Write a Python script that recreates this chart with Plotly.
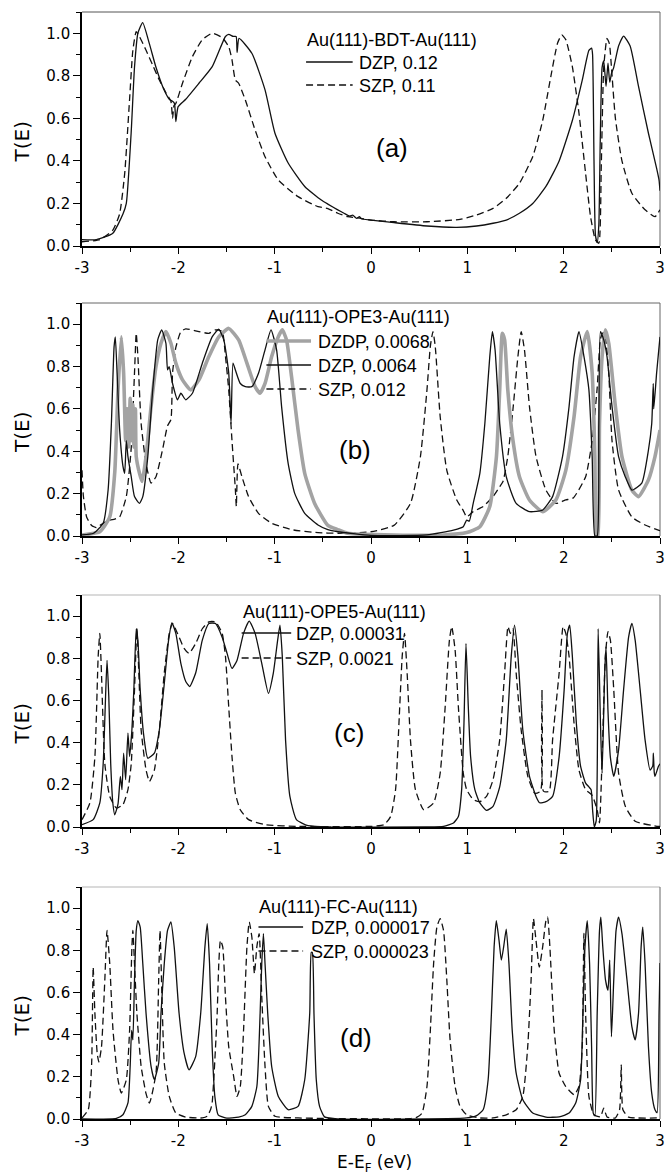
import plotly.graph_objects as go
from plotly.subplots import make_subplots

# ---------------------------------------------------------------- axes ticks
x_tick_vals = [-3, -2, -1, 0, 1, 2, 3]
x_tick_text = ["-3", "-2", "-1", "0", "1", "2", "3"]
y_tick_vals = [0.0, 0.2, 0.4, 0.6, 0.8, 1.0]
y_tick_text = ["0.0", "0.2", "0.4", "0.6", "0.8", "1.0"]

# ---------------------------------------------------------------- (a) Au(111)-BDT-Au(111)
bdt_dzp_e = [-3.0, -2.85, -2.68, -2.575, -2.54, -2.49, -2.455, -2.42, -2.37, -2.30, -2.232,
             -2.163, -2.094, -2.06, -2.04, -2.026, -2.002, -1.923, -1.786, -1.648, -1.511,
             -1.477, -1.43, -1.40, -1.39, -1.37, -1.237, -1.10, -0.997, -0.86, -0.688,
             -0.516, -0.448, -0.345, -0.28, -0.22, -0.19, -0.15, -0.12, -0.10, 0.0, 0.238,
             0.581, 0.89, 1.096, 1.267, 1.404, 1.541, 1.679, 1.816, 1.953, 2.09, 2.193,
             2.262, 2.29, 2.30, 2.315, 2.33, 2.348, 2.365, 2.38, 2.399, 2.416, 2.44, 2.46,
             2.478, 2.496, 2.52, 2.57, 2.622, 2.69, 2.777, 2.88, 2.965, 2.99, 3.0]
bdt_dzp_t = [0.03, 0.03, 0.06, 0.15, 0.20, 0.53, 0.84, 1.0, 1.05, 0.95, 0.84,
             0.75, 0.69, 0.68, 0.67, 0.585, 0.655, 0.69, 0.765, 0.843, 0.985,
             0.995, 0.985, 0.985, 0.91, 0.976, 0.906, 0.734, 0.53, 0.39, 0.28,
             0.216, 0.197, 0.17, 0.154, 0.14, 0.145, 0.13, 0.138, 0.128, 0.122, 0.11,
             0.094, 0.088, 0.094, 0.107, 0.122, 0.154, 0.20, 0.28, 0.40, 0.59, 0.78,
             0.92, 0.93, 0.90, 0.40, 0.05, 0.016, 0.10, 0.50, 0.84, 0.87, 0.75, 0.86,
             0.77, 0.81, 0.84, 0.94, 0.987, 0.94, 0.75, 0.53, 0.365, 0.31, 0.26]

bdt_szp_e = [-3.0, -2.815, -2.68, -2.61, -2.557, -2.506, -2.472, -2.437, -2.403, -2.335,
             -2.266, -2.197, -2.129, -2.077, -2.06, -2.045, -2.026, -1.957, -1.854, -1.751,
             -1.649, -1.545, -1.477, -1.443, -1.408, -1.374, -1.305, -1.203, -1.10, -0.962,
             -0.757, -0.55, -0.448, -0.345, -0.242, -0.105, 0.0, 0.238, 0.581, 0.924, 1.096,
             1.267, 1.404, 1.541, 1.679, 1.782, 1.868, 1.936, 1.98, 2.022, 2.09, 2.159,
             2.228, 2.279, 2.33, 2.365, 2.39, 2.416, 2.45, 2.475, 2.496, 2.537, 2.605,
             2.708, 2.845, 2.948, 3.0]
bdt_szp_t = [0.02, 0.03, 0.075, 0.15, 0.34, 0.69, 0.92, 1.008, 0.984, 0.92,
             0.85, 0.78, 0.72, 0.68, 0.60, 0.66, 0.67, 0.765, 0.89, 0.97,
             1.0, 0.98, 0.937, 0.875, 0.78, 0.765, 0.687, 0.545, 0.42, 0.31,
             0.232, 0.185, 0.176, 0.154, 0.138, 0.13, 0.122, 0.114, 0.114, 0.125, 0.146,
             0.177, 0.224, 0.295, 0.42, 0.59, 0.80, 0.953, 0.992, 0.97, 0.843, 0.624,
             0.34, 0.138, 0.028, 0.013, 0.37, 0.84, 0.976, 0.95, 0.84, 0.60, 0.40,
             0.248, 0.17, 0.138, 0.17]

# ---------------------------------------------------------------- (b) Au(111)-OPE3-Au(111)
ope3_dzdp_e = [-3.0, -2.815, -2.712, -2.66, -2.626, -2.592, -2.568, -2.547, -2.53, -2.515,
               -2.50, -2.489, -2.472, -2.46, -2.445, -2.437, -2.403, -2.376, -2.335, -2.283,
               -2.232, -2.18, -2.129, -2.077, -2.026, -1.957, -1.871, -1.786, -1.683, -1.58,
               -1.477, -1.374, -1.288, -1.203, -1.151, -1.10, -1.031, -0.963, -0.921, -0.877,
               -0.825, -0.757, -0.688, -0.585, -0.448, -0.345, -0.242, 0.238, 0.753, 0.993,
               1.13, 1.233, 1.302, 1.336, 1.363, 1.387, 1.42, 1.473, 1.541, 1.645, 1.782,
               1.919, 2.022, 2.108, 2.176, 2.245, 2.296, 2.324, 2.342, 2.355, 2.372, 2.399,
               2.433, 2.468, 2.537, 2.605, 2.708, 2.777, 2.88, 2.948, 3.0]
ope3_dzdp_t = [0.005, 0.02, 0.09, 0.30, 0.69, 0.94, 0.77, 0.45, 0.60, 0.42,
               0.65, 0.45, 0.62, 0.42, 0.60, 0.375, 0.296, 0.257, 0.375, 0.611,
               0.80, 0.91, 0.965, 0.91, 0.816, 0.737, 0.69, 0.737, 0.847, 0.94,
               0.98, 0.926, 0.816, 0.705, 0.674, 0.72, 0.847, 0.94, 0.973, 0.926,
               0.753, 0.50, 0.296, 0.154, 0.05, 0.03, 0.013, 0.005, 0.005, 0.016,
               0.044, 0.139, 0.375, 0.69, 0.957, 0.926, 0.69, 0.453, 0.28, 0.17, 0.115,
               0.17, 0.31, 0.564, 0.847, 0.965, 0.77, 0.375, 0.0, 0.0, 0.53, 0.847,
               0.973, 0.91, 0.611, 0.375, 0.217, 0.186, 0.265, 0.375, 0.50]

ope3_dzp_e = [-3.0, -2.88, -2.78, -2.729, -2.695, -2.667, -2.654, -2.636, -2.609, -2.575,
              -2.557, -2.54, -2.523, -2.489, -2.455, -2.403, -2.369, -2.317, -2.266, -2.214,
              -2.173, -2.129, -2.112, -2.095, -2.06, -2.009, -1.974, -1.923, -1.854, -1.751,
              -1.649, -1.58, -1.528, -1.477, -1.453, -1.433, -1.408, -1.357, -1.305, -1.237,
              -1.168, -1.10, -1.038, -0.98, -0.928, -0.86, -0.791, -0.688, -0.55, -0.448,
              -0.345, 0.0, 0.581, 0.856, 0.958, 0.993, 1.02, 1.061, 1.13, 1.182, 1.233,
              1.26, 1.288, 1.336, 1.404, 1.507, 1.645, 1.782, 1.885, 1.988, 2.056, 2.108,
              2.159, 2.211, 2.262, 2.296, 2.324, 2.348, 2.365, 2.382, 2.416, 2.45, 2.502,
              2.57, 2.639, 2.708, 2.811, 2.88, 2.914, 2.93, 2.935, 2.965, 3.0]
ope3_dzp_t = [0.005, 0.013, 0.06, 0.217, 0.53, 0.894, 0.94, 0.77, 0.50, 0.33,
              0.296, 0.45, 0.375, 0.28, 0.186, 0.154, 0.186, 0.375, 0.69, 0.926,
              0.973, 0.91, 0.784, 0.80, 0.72, 0.643, 0.674, 0.643, 0.674, 0.816,
              0.94, 0.976, 0.926, 0.77, 0.53, 0.816, 0.784, 0.72, 0.705, 0.705,
              0.768, 0.879, 0.973, 0.879, 0.611, 0.343, 0.20, 0.107, 0.052, 0.03,
              0.02, 0.003, 0.005, 0.028, 0.044, 0.075, 0.07, 0.154, 0.296, 0.532, 0.847,
              0.965, 0.879, 0.532, 0.28, 0.154, 0.115, 0.123, 0.186, 0.375, 0.611, 0.847,
              0.965, 0.847, 0.69, 0.375, 0.0, 0.0, 0.53, 0.965, 0.926, 0.847, 0.611,
              0.375, 0.28, 0.217, 0.25, 0.406, 0.53, 0.72, 0.60, 0.77, 0.94]

ope3_szp_e = [-3.0, -2.986, -2.952, -2.90, -2.85, -2.78, -2.712, -2.66, -2.61, -2.54,
              -2.49, -2.455, -2.437, -2.42, -2.386, -2.335, -2.283, -2.232, -2.163, -2.112,
              -2.077, -2.06, -2.026, -1.974, -1.923, -1.786, -1.683, -1.614, -1.545, -1.511,
              -1.477, -1.443, -1.408, -1.398, -1.381, -1.34, -1.271, -1.168, -1.03, -0.825,
              -0.55, -0.345, 0.0, 0.238, 0.41, 0.513, 0.581, 0.616, 0.643, 0.667, 0.718,
              0.787, 0.89, 0.958, 0.993, 1.06, 1.164, 1.267, 1.336, 1.37, 1.42, 1.473,
              1.525, 1.559, 1.593, 1.645, 1.713, 1.816, 1.919, 2.022, 2.10, 2.228, 2.296,
              2.348, 2.382, 2.41, 2.435, 2.468, 2.502, 2.57, 2.708, 2.845, 2.983, 3.0]
ope3_szp_t = [0.31, 0.19, 0.09, 0.05, 0.04, 0.06, 0.075, 0.08, 0.09, 0.186,
              0.41, 0.77, 0.957, 0.85, 0.53, 0.34, 0.25, 0.28, 0.41, 0.52,
              0.55, 0.77, 0.89, 0.965, 0.978, 0.965, 0.957, 0.973, 0.965, 0.85,
              0.69, 0.45, 0.22, 0.14, 0.34, 0.28, 0.186, 0.107, 0.06, 0.03,
              0.016, 0.013, 0.02, 0.05, 0.154, 0.375, 0.69, 0.895, 0.965, 0.895, 0.564,
              0.31, 0.17, 0.12, 0.09, 0.115, 0.139, 0.186, 0.233, 0.257, 0.375, 0.595,
              0.847, 0.965, 0.879, 0.611, 0.375, 0.217, 0.154, 0.17, 0.18, 0.28, 0.45,
              0.70, 0.93, 0.96, 0.93, 0.77, 0.45, 0.217, 0.09, 0.052, 0.028, 0.025]

# ---------------------------------------------------------------- (c) Au(111)-OPE5-Au(111)
ope5_dzp_e = [-3.0, -2.884, -2.815, -2.78, -2.753, -2.74, -2.722, -2.702, -2.68, -2.66,
              -2.626, -2.602, -2.585, -2.568, -2.547, -2.523, -2.506, -2.482, -2.462, -2.437,
              -2.42, -2.396, -2.362, -2.317, -2.249, -2.197, -2.146, -2.101, -2.067, -2.026,
              -1.974, -1.923, -1.882, -1.82, -1.751, -1.683, -1.614, -1.545, -1.494, -1.443,
              -1.391, -1.323, -1.264, -1.203, -1.134, -1.065, -1.014, -0.969, -0.945, -0.921,
              -0.887, -0.842, -0.774, -0.654, -0.414, 0.581, 0.753, 0.856, 0.907, 0.941,
              0.965, 0.986, 1.01, 1.034, 1.078, 1.13, 1.199, 1.267, 1.336, 1.404, 1.456,
              1.49, 1.525, 1.576, 1.645, 1.713, 1.75, 1.816, 1.885, 1.953, 2.005, 2.039,
              2.063, 2.09, 2.132, 2.176, 2.228, 2.262, 2.285, 2.30, 2.318, 2.338, 2.358,
              2.382, 2.399, 2.426, 2.44, 2.46, 2.485, 2.52, 2.57, 2.622, 2.674, 2.708,
              2.742, 2.794, 2.845, 2.897, 2.925, 2.931, 2.94, 2.948, 2.983, 3.0]
ope5_dzp_t = [0.011, 0.035, 0.114, 0.30, 0.65, 0.79, 0.62, 0.30, 0.114, 0.058,
              0.11, 0.24, 0.177, 0.35, 0.224, 0.445, 0.334, 0.46, 0.65, 0.94,
              0.886, 0.65, 0.445, 0.326, 0.35, 0.46, 0.68, 0.886, 0.968, 0.918,
              0.776, 0.69, 0.666, 0.73, 0.886, 0.965, 0.965, 0.90, 0.823, 0.752,
              0.79, 0.918, 0.976, 0.918, 0.776, 0.634, 0.73, 0.886, 0.957, 0.81,
              0.413, 0.145, 0.035, 0.006, 0.0, 0.0, 0.003, 0.019, 0.05, 0.177,
              0.49, 0.87, 0.57, 0.334, 0.177, 0.114, 0.079, 0.098, 0.19, 0.413, 0.81,
              0.957, 0.81, 0.46, 0.24, 0.145, 0.115, 0.12, 0.145, 0.334, 0.65, 0.918,
              0.957, 0.81, 0.49, 0.287, 0.208, 0.19, 0.177, 0.082, 0.0, 0.03, 0.94,
              0.49, 0.255, 0.73, 0.855, 0.55, 0.33, 0.24, 0.366, 0.65, 0.90, 0.965,
              0.886, 0.65, 0.413, 0.27, 0.29, 0.35, 0.26, 0.24, 0.287, 0.30]

ope5_szp_e = [-3.0, -2.918, -2.866, -2.832, -2.815, -2.798, -2.763, -2.712, -2.643, -2.575,
              -2.523, -2.489, -2.455, -2.43, -2.41, -2.386, -2.335, -2.30, -2.249, -2.197,
              -2.146, -2.094, -2.06, -2.009, -1.94, -1.889, -1.82, -1.751, -1.683, -1.614,
              -1.545, -1.511, -1.477, -1.443, -1.408, -1.357, -1.271, -1.10, -0.757, 0.0,
              0.135, 0.204, 0.255, 0.29, 0.324, 0.348, 0.375, 0.41, 0.461, 0.547, 0.65,
              0.718, 0.77, 0.814, 0.838, 0.873, 0.907, 0.958, 0.993, 1.061, 1.13, 1.199,
              1.267, 1.336, 1.387, 1.422, 1.446, 1.473, 1.507, 1.559, 1.628, 1.70, 1.76,
              1.775, 1.79, 1.85, 1.885, 1.953, 1.994, 2.022, 2.056, 2.108, 2.159, 2.228,
              2.296, 2.348, 2.372, 2.399, 2.433, 2.46, 2.485, 2.52, 2.57, 2.64, 2.742,
              2.983, 3.0]
ope5_szp_t = [0.035, 0.114, 0.334, 0.81, 0.918, 0.73, 0.30, 0.145, 0.09, 0.106,
              0.177, 0.30, 0.65, 0.94, 0.73, 0.46, 0.27, 0.216, 0.27, 0.46,
              0.73, 0.918, 0.965, 0.918, 0.847, 0.823, 0.87, 0.94, 0.973, 0.973,
              0.918, 0.81, 0.57, 0.334, 0.16, 0.082, 0.035, 0.011, 0.003, 0.003,
              0.011, 0.05, 0.177, 0.49, 0.81, 0.918, 0.73, 0.41, 0.177, 0.082, 0.114,
              0.255, 0.57, 0.886, 0.95, 0.84, 0.57, 0.255, 0.177, 0.13, 0.12, 0.145,
              0.224, 0.413, 0.73, 0.95, 0.918, 0.94, 0.73, 0.46, 0.24, 0.16, 0.17,
              0.65, 0.17, 0.17, 0.413, 0.73, 0.95, 0.918, 0.81, 0.49, 0.27, 0.177,
              0.15, 0.08, 0.02, 0.33, 0.81, 0.926, 0.886, 0.65, 0.255, 0.098, 0.027,
              0.003, 0.003]

# ---------------------------------------------------------------- (d) Au(111)-FC-Au(111)
fc_dzp_e = [-3.0, -2.643, -2.575, -2.523, -2.50, -2.485, -2.472, -2.455, -2.437, -2.42,
            -2.396, -2.369, -2.335, -2.283, -2.249, -2.204, -2.18, -2.146, -2.112, -2.077,
            -2.043, -1.992, -1.94, -1.889, -1.82, -1.768, -1.724, -1.70, -1.676, -1.649,
            -1.621, -1.587, -1.511, -1.374, -1.305, -1.237, -1.185, -1.151, -1.134, -1.117,
            -1.10, -1.072, -1.031, -0.962, -0.86, -0.757, -0.688, -0.636, -0.62, -0.609,
            -0.592, -0.568, -0.534, -0.482, -0.345, 0.993, 1.096, 1.164, 1.216, 1.25,
            1.278, 1.301, 1.329, 1.353, 1.377, 1.404, 1.432, 1.466, 1.507, 1.576, 1.679,
            1.816, 1.953, 2.056, 2.125, 2.176, 2.20, 2.221, 2.245, 2.269, 2.29, 2.307,
            2.324, 2.348, 2.372, 2.386, 2.406, 2.434, 2.46, 2.478, 2.496, 2.52, 2.544,
            2.57, 2.605, 2.657, 2.708, 2.742, 2.777, 2.804, 2.821, 2.845, 2.88, 2.914,
            2.948, 2.97, 2.99, 3.0]
fc_dzp_t = [0.0, 0.003, 0.02, 0.076, 0.25, 0.42, 0.375, 0.66, 0.894, 0.94,
            0.91, 0.737, 0.50, 0.249, 0.186, 0.265, 0.50, 0.737, 0.894, 0.934,
            0.816, 0.50, 0.312, 0.233, 0.296, 0.50, 0.816, 0.926, 0.737, 0.343,
            0.107, 0.02, 0.005, 0.009, 0.02, 0.06, 0.154, 0.50, 0.737, 0.879,
            0.737, 0.50, 0.249, 0.107, 0.044, 0.06, 0.186, 0.50, 0.79, 0.79,
            0.50, 0.186, 0.06, 0.01, 0.0, 0.005, 0.016, 0.044, 0.186, 0.50,
            0.816, 0.94, 0.847, 0.753, 0.816, 0.90, 0.737, 0.42, 0.217, 0.091, 0.028,
            0.009, 0.01, 0.028, 0.076, 0.186, 0.50, 0.816, 0.94, 0.737, 0.343, 0.028,
            0.015, 0.50, 0.894, 0.957, 0.816, 0.66, 0.61, 0.753, 0.39, 0.66, 0.894,
            0.957, 0.879, 0.66, 0.438, 0.375, 0.50, 0.816, 0.91, 0.737, 0.343, 0.123,
            0.044, 0.03, 0.50, 0.74]

fc_szp_e = [-3.0, -2.935, -2.90, -2.884, -2.866, -2.842, -2.825, -2.798, -2.763, -2.74,
            -2.712, -2.678, -2.626, -2.592, -2.54, -2.506, -2.482, -2.472, -2.455, -2.43,
            -2.386, -2.335, -2.30, -2.232, -2.204, -2.19, -2.17, -2.146, -2.094, -2.026,
            -1.923, -1.751, -1.70, -1.666, -1.649, -1.614, -1.597, -1.58, -1.563, -1.539,
            -1.511, -1.477, -1.425, -1.391, -1.357, -1.323, -1.288, -1.264, -1.237, -1.21,
            -1.185, -1.161, -1.134, -1.10, -1.065, -0.997, -0.757, 0.41, 0.478, 0.53,
            0.581, 0.616, 0.65, 0.684, 0.718, 0.753, 0.787, 0.821, 0.873, 0.924, 0.993,
            1.13, 1.267, 1.404, 1.507, 1.576, 1.627, 1.662, 1.686, 1.713, 1.747, 1.782,
            1.816, 1.833, 1.857, 1.902, 1.953, 2.022, 2.108, 2.159, 2.193, 2.21, 2.228,
            2.262, 2.313, 2.382, 2.416, 2.45, 2.537, 2.58, 2.598, 2.615, 2.674, 2.983, 3.0]
fc_szp_t = [0.005, 0.044, 0.26, 0.72, 0.50, 0.31, 0.27, 0.34, 0.66, 0.894,
            0.737, 0.42, 0.186, 0.123, 0.186, 0.42, 0.816, 0.894, 0.737, 0.50,
            0.249, 0.12, 0.075, 0.217, 0.66, 0.894, 0.58, 0.265, 0.107, 0.028,
            0.009, 0.005, 0.013, 0.044, 0.076, 0.34, 0.50, 0.737, 0.847, 0.816,
            0.58, 0.343, 0.20, 0.107, 0.154, 0.42, 0.816, 0.934, 0.863, 0.69,
            0.816, 0.879, 0.58, 0.249, 0.06, 0.013, 0.005, 0.002, 0.009, 0.028,
            0.154, 0.42, 0.737, 0.91, 0.95, 0.894, 0.66, 0.375, 0.154, 0.06, 0.02,
            0.005, 0.005, 0.02, 0.044, 0.107, 0.343, 0.66, 0.95, 0.847, 0.72, 0.816,
            0.94, 0.957, 0.816, 0.42, 0.217, 0.154, 0.115, 0.154, 0.343, 0.88, 0.50,
            0.107, 0.02, 0.01, 0.052, 0.01, 0.005, 0.044, 0.257, 0.044, 0.009, 0.005, 0.005]

# ---------------------------------------------------------------- figure geometry (pixels)
W, H = 668, 1174
ML, MR, MT, MB = 82, 3, 12, 55
PW, PH = W - ML - MR, H - MT - MB
panel_top = [12, 303, 595, 887]
panel_bot = [246, 536, 827, 1119]


def px(xp):
    return (xp - ML) / PW


def py(yp):
    return (H - MB - yp) / PH


BLACK = "#111111"
GREY = "#a3a3a3"
DASH = "7px,4px"
TICK_FONT = dict(family="DejaVu Sans", size=15, color="black")
LEG_FONT = dict(family="Liberation Sans, Arial", size=18, color="black")

solid = dict(color=BLACK, width=1.3)
dashed = dict(color=BLACK, width=1.3, dash=DASH)
thick_grey = dict(color=GREY, width=3.6)

panels = [
    dict(label="(a)", label_xy=(395, 148), title="Au(111)-BDT-Au(111)",
         leg_x=(308, 355, 359), leg_title_y=40,
         curves=[(bdt_dzp_e, bdt_dzp_t, solid, "DZP, 0.12", 62),
                 (bdt_szp_e, bdt_szp_t, dashed, "SZP, 0.11", 85)]),
    dict(label="(b)", label_xy=(357, 450), title="Au(111)-OPE3-Au(111)",
         leg_x=(268, 313, 318), leg_title_y=317,
         curves=[(ope3_szp_e, ope3_szp_t, dashed, "SZP, 0.012", 389),
                 (ope3_dzdp_e, ope3_dzdp_t, thick_grey, "DZDP, 0.0068", 341),
                 (ope3_dzp_e, ope3_dzp_t, solid, "DZP, 0.0064", 365)]),
    dict(label="(c)", label_xy=(351, 733), title="Au(111)-OPE5-Au(111)",
         leg_x=(243, 293, 296), leg_title_y=612,
         curves=[(ope5_dzp_e, ope5_dzp_t, solid, "DZP, 0.00031", 633),
                 (ope5_szp_e, ope5_szp_t, dashed, "SZP, 0.0021", 658)]),
    dict(label="(d)", label_xy=(358, 1038), title="Au(111)-FC-Au(111)",
         leg_x=(260, 305, 311), leg_title_y=907,
         curves=[(fc_dzp_e, fc_dzp_t, solid, "DZP, 0.000017", 927),
                 (fc_szp_e, fc_szp_t, dashed, "SZP, 0.000023", 951)]),
]

fig = make_subplots(rows=4, cols=1, shared_xaxes=False)

shapes = []
annotations = []
top_colors = ["#555555", "#666666", "#b5b5b5", "#b5b5b5"]

for i, p in enumerate(panels):
    row = i + 1
    for e, t, style, name, _ in p["curves"]:
        fig.add_trace(go.Scatter(x=e, y=t, mode="lines", line=dict(style, shape="spline",
                                                                    smoothing=0.5),
                                 name=name, showlegend=False), row=row, col=1)

    xa = "xaxis" if i == 0 else f"xaxis{row}"
    ya = "yaxis" if i == 0 else f"yaxis{row}"
    xref = "x" if i == 0 else f"x{row}"
    yref = "y" if i == 0 else f"y{row}"
    fig.layout[xa].update(
        domain=[0, 1], range=[-3, 3], tickmode="array", tickvals=x_tick_vals,
        ticktext=x_tick_text, ticks="outside", ticklen=6, tickwidth=1.4, tickcolor="black",
        minor=dict(tickmode="linear", tick0=0, dtick=0.5, ticks="outside", ticklen=4,
                   tickwidth=1.2, tickcolor="black"),
        showline=True, linecolor="black", linewidth=1.6, mirror=False,
        showgrid=False, zeroline=False, tickfont=TICK_FONT, fixedrange=True,
        ticklabeloverflow="allow", ticklabelstandoff=1)
    fig.layout[ya].update(
        domain=[py(panel_bot[i]), py(panel_top[i])], range=[0, 1.1], tickmode="array",
        tickvals=y_tick_vals, ticktext=y_tick_text, ticks="outside", ticklen=7,
        tickwidth=1.4, tickcolor="black",
        minor=dict(tickmode="linear", tick0=0, dtick=0.1, ticks="outside", ticklen=4,
                   tickwidth=1.2, tickcolor="black"),
        showline=True, linecolor="black", linewidth=1.6, mirror=False,
        showgrid=False, zeroline=False, tickfont=TICK_FONT, fixedrange=True)

    # thin frame on the top and right sides of the panel
    shapes.append(dict(type="line", xref=f"{xref} domain", yref=f"{yref} domain",
                       x0=0, x1=1, y0=1, y1=1, line=dict(color=top_colors[i], width=1),
                       layer="below"))
    shapes.append(dict(type="line", xref=f"{xref} domain", yref=f"{yref} domain",
                       x0=1, x1=1, y0=0, y1=1, line=dict(color="#666666", width=1),
                       layer="below"))

    # legend block: title, line samples and labels
    lx0, lx1, tx = p["leg_x"]
    annotations.append(dict(text=p["title"], xref="paper", yref="paper",
                            x=px(lx0 - 1), y=py(p["leg_title_y"]), xanchor="left",
                            yanchor="middle", showarrow=False, font=LEG_FONT))
    for _, _, style, name, ly in p["curves"]:
        shapes.append(dict(type="line", xref="paper", yref="paper", x0=px(lx0), x1=px(lx1),
                           y0=py(ly), y1=py(ly), line=style, layer="above"))
        annotations.append(dict(text=name, xref="paper", yref="paper", x=px(tx),
                                y=py(ly + 1), xanchor="left", yanchor="middle",
                                showarrow=False, font=LEG_FONT))

    # panel letter
    annotations.append(dict(text=p["label"], xref="paper", yref="paper",
                            x=px(p["label_xy"][0]), y=py(p["label_xy"][1]),
                            xanchor="center", yanchor="middle", showarrow=False,
                            font=dict(family="Liberation Sans, Arial", size=26,
                                      color="black")))

    # y-axis title
    mid = (panel_top[i] + panel_bot[i]) / 2 + 13
    annotations.append(dict(text="T(E)", xref="paper", yref="paper", x=px(21), y=py(mid),
                            xanchor="center", yanchor="middle", textangle=-90,
                            showarrow=False,
                            font=dict(family="DejaVu Sans", size=20, color="black")))

annotations.append(dict(text="E-E<sub>F</sub> (eV)", xref="paper", yref="paper",
                        x=px(377), y=py(1164), xanchor="center", yanchor="middle",
                        showarrow=False,
                        font=dict(family="DejaVu Sans", size=17, color="black")))

fig.update_layout(width=W, height=H, margin=dict(l=ML, r=MR, t=MT, b=MB),
                  paper_bgcolor="white", plot_bgcolor="white", showlegend=False,
                  shapes=shapes, annotations=annotations)

fig.write_html("out.html")
